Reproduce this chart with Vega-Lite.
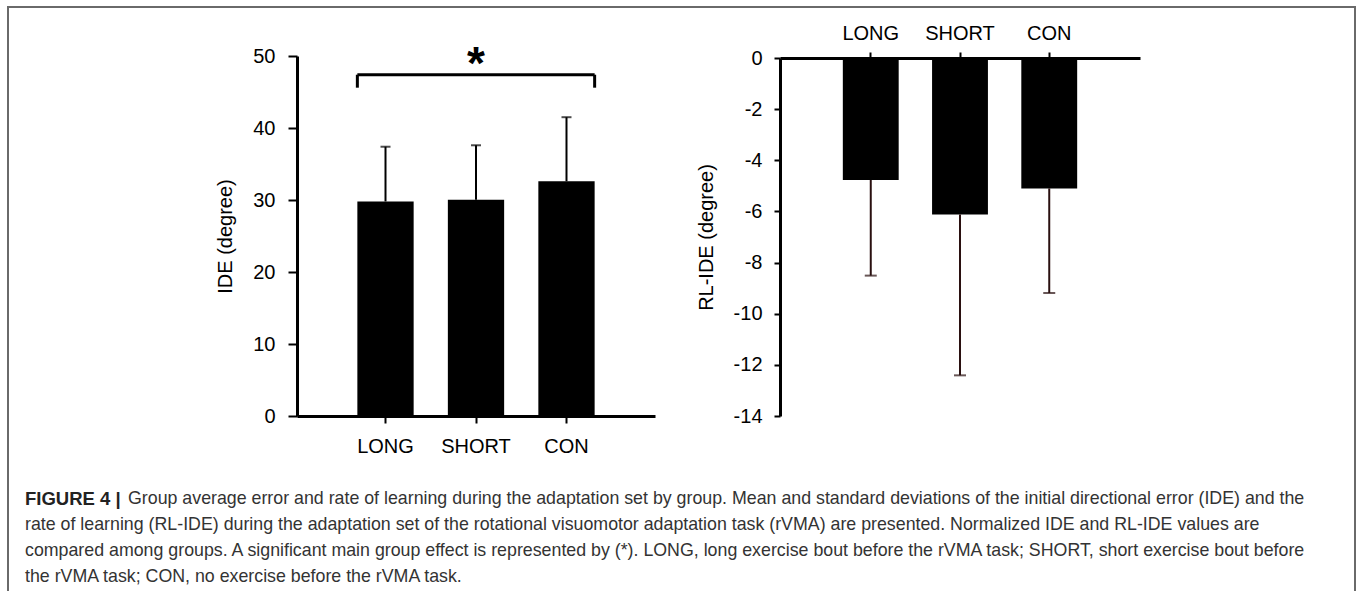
{
  "$schema": "https://vega.github.io/schema/vega-lite/v6.json",
  "width": 1347,
  "height": 600,
  "autosize": "none",
  "padding": {"left": 8, "top": 7, "right": 7, "bottom": 0},
  "background": "white",
  "view": {"stroke": "#6a6a6a", "strokeWidth": 2},
  "config": {
    "font": "Liberation Sans",
    "axis": {"grid": false, "labelFont": "Liberation Sans", "titleFont": "Liberation Sans"},
    "text": {"font": "Liberation Sans"}
  },
  "resolve": {
    "scale": {"x": "independent", "y": "independent"},
    "axis": {"x": "independent", "y": "independent"}
  },
  "layer": [
    {
      "data": {"values": [
        {"group": "LONG", "mean": 29.8, "upper": 37.4},
        {"group": "SHORT", "mean": 30.05, "upper": 37.6},
        {"group": "CON", "mean": 32.6, "upper": 41.5}
      ]},
      "encoding": {
        "x": {
          "field": "group", "type": "nominal", "sort": ["LONG", "SHORT", "CON"],
          "scale": {"domain": ["LONG", "SHORT", "CON"], "range": [289, 647], "paddingInner": 0.378, "paddingOuter": 0.667},
          "axis": {"orient": "bottom", "offset": -191, "title": null, "labelAngle": 0, "domainColor": "black", "domainWidth": 3, "tickColor": "black", "tickWidth": 2, "tickSize": 7, "labelFontSize": 20, "labelColor": "black", "labelPadding": 13}
        }
      },
      "layer": [
        {
          "mark": {"type": "bar", "color": "black"},
          "encoding": {
            "y": {
              "field": "mean", "type": "quantitative",
              "scale": {"domain": [0, 50], "range": [409, 49], "nice": false, "zero": true},
              "axis": {"orient": "left", "offset": -289, "values": [0, 10, 20, 30, 40, 50], "title": "IDE (degree)", "domainColor": "black", "domainWidth": 3, "tickColor": "black", "tickWidth": 2, "tickSize": 9, "labelFontSize": 20, "labelColor": "black", "labelPadding": 13, "titleFontSize": 20, "titleFontWeight": "normal", "titleColor": "black", "titlePadding": 17}
            }
          }
        },
        {
          "mark": {"type": "rule", "color": "black", "strokeWidth": 2},
          "encoding": {"y": {"field": "mean", "type": "quantitative"}, "y2": {"field": "upper"}}
        },
        {
          "mark": {"type": "tick", "color": "black", "thickness": 2, "size": 10},
          "encoding": {"y": {"field": "upper", "type": "quantitative"}}
        },
        {
          "data": {"values": [{"from": "LONG", "to": "CON"}]},
          "mark": {"type": "rule", "color": "black", "strokeWidth": 3},
          "encoding": {
            "x": {"field": "from", "type": "nominal", "bandPosition": 0},
            "x2": {"field": "to", "bandPosition": 1},
            "y": {"datum": 47.4, "type": "quantitative"}
          }
        },
        {
          "data": {"values": [{"g": "LONG"}]},
          "mark": {"type": "rule", "color": "black", "strokeWidth": 3},
          "encoding": {
            "x": {"field": "g", "type": "nominal", "bandPosition": 0},
            "y": {"datum": 47.4, "type": "quantitative"},
            "y2": {"datum": 45.6}
          }
        },
        {
          "data": {"values": [{"g": "CON"}]},
          "mark": {"type": "rule", "color": "black", "strokeWidth": 3},
          "encoding": {
            "x": {"field": "g", "type": "nominal", "bandPosition": 1},
            "y": {"datum": 47.4, "type": "quantitative"},
            "y2": {"datum": 45.6}
          }
        },
        {
          "data": {"values": [{"g": "SHORT", "label": "*"}]},
          "mark": {"type": "text", "fontSize": 46, "fontWeight": "bold", "color": "black", "baseline": "alphabetic", "dy": 4},
          "encoding": {
            "x": {"field": "g", "type": "nominal"},
            "y": {"datum": 47.4, "type": "quantitative"},
            "text": {"field": "label", "type": "nominal"}
          }
        }
      ]
    },
    {
      "data": {"values": [
        {"group": "LONG", "mean": -4.77, "lower": -8.51},
        {"group": "SHORT", "mean": -6.12, "lower": -12.41},
        {"group": "CON", "mean": -5.1, "lower": -9.19}
      ]},
      "encoding": {
        "x": {
          "field": "group", "type": "nominal", "sort": ["LONG", "SHORT", "CON"],
          "scale": {"domain": ["LONG", "SHORT", "CON"], "range": [772, 1132], "paddingInner": 0.374, "paddingOuter": 0.704},
          "axis": {"orient": "top", "offset": -51, "title": null, "labelAngle": 0, "domainColor": "black", "domainWidth": 3, "tickColor": "black", "tickWidth": 2, "tickSize": 6, "labelFontSize": 20, "labelColor": "black", "labelPadding": 9}
        }
      },
      "layer": [
        {
          "mark": {"type": "bar", "color": "black"},
          "encoding": {
            "y": {
              "field": "mean", "type": "quantitative",
              "scale": {"domain": [-14, 0], "range": [409, 51], "nice": false},
              "axis": {"orient": "left", "offset": -772, "values": [0, -2, -4, -6, -8, -10, -12, -14], "labelExpr": "'' + datum.value", "title": "RL-IDE (degree)", "domainColor": "black", "domainWidth": 3, "tickColor": "black", "tickWidth": 2, "tickSize": 6, "labelFontSize": 20, "labelColor": "black", "labelPadding": 12, "titleFontSize": 20, "titleFontWeight": "normal", "titleColor": "black", "titlePadding": 17}
            }
          }
        },
        {
          "mark": {"type": "rule", "color": "#2a1010", "strokeWidth": 2},
          "encoding": {"y": {"field": "mean", "type": "quantitative"}, "y2": {"field": "lower"}}
        },
        {
          "mark": {"type": "tick", "color": "#2a1010", "thickness": 2, "size": 12},
          "encoding": {"y": {"field": "lower", "type": "quantitative"}}
        }
      ]
    },
    {
      "data": {"values": [
        {"line": 1, "bold": "FIGURE 4 |", "text": "Group average error and rate of learning during the adaptation set by group. Mean and standard deviations of the initial directional error (IDE) and the"},
        {"line": 2, "bold": "", "text": "rate of learning (RL-IDE) during the adaptation set of the rotational visuomotor adaptation task (rVMA) are presented. Normalized IDE and RL-IDE values are"},
        {"line": 3, "bold": "", "text": "compared among groups. A significant main group effect is represented by (*). LONG, long exercise bout before the rVMA task; SHORT, short exercise bout before"},
        {"line": 4, "bold": "", "text": "the rVMA task; CON, no exercise before the rVMA task."}
      ]},
      "encoding": {
        "y": {"field": "line", "type": "ordinal", "scale": {"type": "point", "domain": [1, 2, 3, 4], "range": [492, 570], "padding": 0}, "axis": null}
      },
      "layer": [
        {
          "transform": [{"filter": "datum.line > 1"}],
          "mark": {"type": "text", "align": "left", "baseline": "middle", "fontSize": 17.8, "color": "#333333"},
          "encoding": {"x": {"value": 17}, "text": {"field": "text", "type": "nominal"}}
        },
        {
          "transform": [{"filter": "datum.line == 1"}],
          "mark": {"type": "text", "align": "left", "baseline": "middle", "fontSize": 17.8, "color": "#333333", "dx": 103},
          "encoding": {"x": {"value": 17}, "text": {"field": "text", "type": "nominal"}}
        },
        {
          "transform": [{"filter": "datum.line == 1"}],
          "mark": {"type": "text", "align": "left", "baseline": "middle", "fontSize": 18.5, "fontWeight": "bold", "color": "#222222"},
          "encoding": {"x": {"value": 17}, "text": {"field": "bold", "type": "nominal"}}
        }
      ]
    }
  ]
}
